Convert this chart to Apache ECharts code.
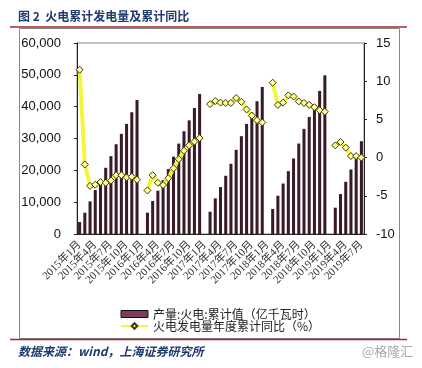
<!DOCTYPE html>
<html>
<head>
<meta charset="utf-8">
<script src="https://cdn.jsdelivr.net/npm/echarts@6/dist/echarts.min.js"></script>
<style>
html,body{margin:0;padding:0;background:#fff;}
#c{width:422px;height:368px;}
</style>
</head>
<body>
<div id="c"></div>
<script>
var categories = [
 '2015年1月','2015年2月','2015年3月','2015年4月','2015年5月','2015年6月','2015年7月','2015年8月','2015年9月','2015年10月','2015年11月','2015年12月',
 '2016年1月','2016年2月','2016年3月','2016年4月','2016年5月','2016年6月','2016年7月','2016年8月','2016年9月','2016年10月','2016年11月','2016年12月',
 '2017年1月','2017年2月','2017年3月','2017年4月','2017年5月','2017年6月','2017年7月','2017年8月','2017年9月','2017年10月','2017年11月','2017年12月',
 '2018年1月','2018年2月','2018年3月','2018年4月','2018年5月','2018年6月','2018年7月','2018年8月','2018年9月','2018年10月','2018年11月','2018年12月',
 '2019年1月','2019年2月','2019年3月','2019年4月','2019年5月','2019年6月','2019年7月'
];
// 产量:火电:累计值（亿千瓦时）
var outputCum = [
 3760, 6690, 10240, 13800, 17300, 20800, 24450, 28200, 31450, 34600, 38250, 42100,
 null, 6700, 10350, 13600, 16900, 20400, 24300, 28400, 32300, 35700, 39600, 44000,
 null, 7000, 11180, 14730, 18290, 22050, 26440, 30720, 34590, 38200, 41700, 46190,
 null, 7840, 12020, 15850, 19750, 23720, 28420, 33020, 36780, 40440, 44940, 49850,
 null, 8260, 12540, 16400, 20270, 24240, 29150
];
// 火电发电量年度累计同比（%）
var yoyCum = [
 11.5, -0.9, -3.7, -3.55, -3.2, -3.3, -3.0, -2.3, -2.3, -2.6, -2.5, -2.9,
 null, -4.3, -2.3, -3.3, -3.6, -2.7, -1.4, -0.2, 0.9, 1.6, 2.1, 2.55,
 null, 7.0, 7.4, 7.2, 7.15, 7.15, 7.8, 7.3, 6.3, 5.5, 4.9, 4.6,
 null, 9.8, 6.9, 7.2, 8.15, 8.0, 7.35, 7.15, 6.9, 6.6, 6.2, 6.0,
 null, 1.6, 2.05, 1.3, 0.2, 0.2, 0.0
];
var leftTicks = [0, 10000, 20000, 30000, 40000, 50000, 60000];
var rightTicks = [-10, -5, 0, 5, 10, 15];
var seriesNames = ['产量:火电:累计值（亿千瓦时）', '火电发电量年度累计同比（%）'];
var titleText = '图 2  火电累计发电量及累计同比';
var sourceText = '数据来源：wind，上海证券研究所';
var watermarkText = '@格隆汇';

var chart = echarts.init(document.getElementById('c'), null, {renderer: 'canvas'});
var cjk = '"Noto Sans CJK SC"';
chart.setOption({
  backgroundColor: '#fff',
  animation: false,
  grid: {left: 77, right: 58, top: 43, bottom: 134, show: true, borderColor: '#888', borderWidth: 1, backgroundColor: 'transparent'},
  legend: {
    orient: 'vertical', left: 115, top: 303, itemWidth: 27, itemHeight: 7, itemGap: 0,
    textStyle: {fontSize: 12, fontFamily: cjk, color: '#222', lineHeight: 12},
    data: [
      {name: seriesNames[0], icon: 'rect', itemStyle: {color: '#7b3d5a', borderColor: '#111', borderWidth: 1}},
      {name: seriesNames[1]}
    ]
  },
  xAxis: {
    type: 'category', data: categories, boundaryGap: true,
    axisLine: {lineStyle: {color: '#222', width: 1}},
    axisTick: {show: false},
    axisLabel: {interval: 2, rotate: 45, margin: 9, fontSize: 11, color: '#333',
      fontFamily: '"Liberation Serif", "Noto Sans CJK SC"'}
  },
  yAxis: [
    {type: 'value', min: leftTicks[0], max: leftTicks[leftTicks.length - 1], interval: 10000,
     axisLine: {show: true, lineStyle: {color: '#222'}},
     axisTick: {show: true, length: 3, lineStyle: {color: '#222'}},
     splitLine: {show: false},
     axisLabel: {margin: 16, fontSize: 13, color: '#111', fontFamily: '"Liberation Sans"',
       formatter: function (v) { return v.toLocaleString('en-US'); }}},
    {type: 'value', min: rightTicks[0], max: rightTicks[rightTicks.length - 1], interval: 5,
     position: 'right',
     axisLine: {show: true, lineStyle: {color: '#222'}},
     axisTick: {show: true, length: 3, lineStyle: {color: '#222'}},
     splitLine: {show: false},
     axisLabel: {margin: 12, fontSize: 13, color: '#111', fontFamily: '"Liberation Sans"'}}
  ],
  series: [
    {name: seriesNames[0], type: 'bar', yAxisIndex: 0, data: outputCum, barWidth: '58%',
     itemStyle: {color: '#3a1a28'}},
    {name: seriesNames[1], type: 'line', yAxisIndex: 1, data: yoyCum, connectNulls: false,
     symbol: 'diamond', symbolSize: 7, showAllSymbol: true, z: 5,
     lineStyle: {color: '#f5f53a', width: 4},
     itemStyle: {color: '#ffff99', borderColor: '#3a3a10', borderWidth: 1}}
  ],
  graphic: [
    {type: 'text', left: 18, top: 10, style: {text: titleText, font: 'bold 12px "Noto Sans CJK SC"', fill: '#1f3a6e'}},
    {type: 'line', shape: {x1: 10, y1: 27, x2: 407, y2: 27}, style: {stroke: '#a3272c', lineWidth: 1.5}},
    {type: 'rect', shape: {x: 19.5, y: 28.5, width: 380, height: 310}, style: {fill: 'none', stroke: '#888', lineWidth: 1}},
    {type: 'line', shape: {x1: 10, y1: 339.5, x2: 407, y2: 339.5}, style: {stroke: '#a3272c', lineWidth: 1.5}},
    {type: 'text', left: 18, top: 345, style: {text: sourceText, font: 'italic bold 12px "Noto Sans CJK SC"', fill: '#1f3a6e'}},
    {type: 'text', left: 362, top: 345, style: {text: watermarkText, font: '13px "Noto Sans CJK SC"', fill: '#aaa'}}
  ]
});
</script>
</body>
</html>
